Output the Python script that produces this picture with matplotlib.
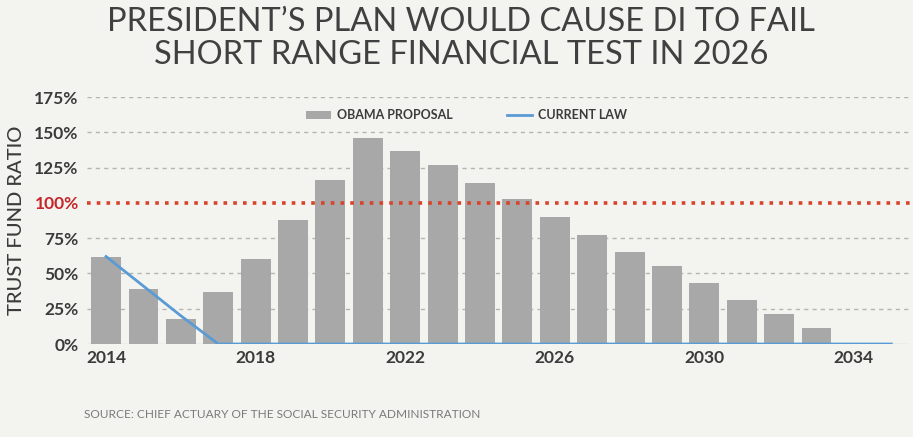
import matplotlib.pyplot as plt
from matplotlib.ticker import FuncFormatter

years = list(range(2014, 2035))
obama_proposal = [62, 39, 18, 37, 60, 88, 116, 146, 137, 127, 114, 103,
                  90, 77, 65, 55, 43, 31, 21, 11, 0]
law_years = list(range(2014, 2036))
current_law = [62, 41, 20, 0, 0, 0, 0, 0, 0, 0, 0, 0,
               0, 0, 0, 0, 0, 0, 0, 0, 0, 0]
y_ticks = [0, 25, 50, 75, 100, 125, 150, 175]
x_ticks = [2014, 2018, 2022, 2026, 2030, 2034]

BG = '#f3f3ef'
TXT = '#3b3b3b'
plt.rcParams['font.family'] = ['Lato', 'DejaVu Sans']

fig = plt.figure(figsize=(9.13, 4.37), dpi=100, facecolor=BG)
ax = fig.add_axes([0.0953, 0.2128, 0.9014, 0.5652], facecolor=BG)

# grid first so bars cover it
for v in y_ticks:
    if v in (0, 100):
        continue
    ax.axhline(v, color='#b5b5b2', lw=1, ls=(0, (3, 3)), zorder=0)

bars = ax.bar(years, obama_proposal, width=0.8, color='#a8a8a8', zorder=2)
line, = ax.plot(law_years, current_law, color='#5b9bd5', lw=2, zorder=3)
ax.axhline(100, color='#d8432b', lw=2.6, ls=(0, (1, 1.7)), zorder=4)
ax.axhline(0, color='#d2d2d0', lw=1, zorder=1)

ax.set_xlim(2013.49, 2035.5)
ax.set_ylim(0, 175)
ax.set_yticks(y_ticks)
ax.yaxis.set_major_formatter(FuncFormatter(lambda v, p: f"{v:.0f}%"))
ax.set_xticks(x_ticks)
ax.tick_params(length=0, labelsize=12.5, labelcolor=TXT)
ax.tick_params(axis='y', pad=6)
ax.tick_params(axis='x', pad=4)
for lbl in ax.get_yticklabels() + ax.get_xticklabels():
    lbl.set_fontweight('bold')
for lbl in ax.get_yticklabels():
    if lbl.get_text() == '100%':
        lbl.set_color('#c4262b')
for s in ax.spines.values():
    s.set_visible(False)

ax.set_ylabel('TRUST FUND RATIO', fontsize=14.5, color=TXT, labelpad=7,
              fontweight='medium')

leg = ax.legend([bars, line], ['OBAMA PROPOSAL', 'CURRENT LAW'],
                loc='upper center', bbox_to_anchor=(0.461, 0.995), ncol=2,
                frameon=False, fontsize=9, handlelength=2.0, handleheight=0.5,
                columnspacing=4.3, handletextpad=0.5)
for t in leg.get_texts():
    t.set_color(TXT)
    t.set_fontweight('bold')

fig.text(0.505, 0.985, "PRESIDENT\u2019S PLAN WOULD CAUSE DI TO FAIL\n"
         "SHORT RANGE FINANCIAL TEST IN 2026", ha='center', va='top',
         fontsize=23.5, color='#404040', linespacing=1.15)
fig.text(0.092, 0.052, 'SOURCE: CHIEF ACTUARY OF THE SOCIAL SECURITY ADMINISTRATION',
         fontsize=8.6, color='#7a7a7a', va='center')

fig.savefig('out.png', dpi=100, facecolor=BG)
